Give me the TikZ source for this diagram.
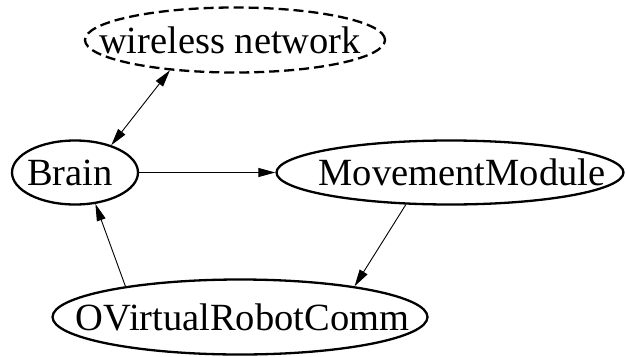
\documentclass[tikz,border=0pt]{standalone}
\usepackage{fontspec}
\setmainfont{Liberation Serif}
\usepackage{tikz}
\usetikzlibrary{shapes.geometric}
\usetikzlibrary{arrows.meta}

\newcommand{\modlabel}[2][0pt]{\makebox[0pt]{\hspace{#1}#2}}

\tikzset{
  module/.style={draw,ellipse,line width=2.3pt,inner sep=0pt,font=\fontsize{38.5}{40}\selectfont},
  link/.style={-{Triangle[length=17pt,width=9pt]},line width=0.9pt}
}

\begin{document}
\begin{tikzpicture}[x=1pt,y=-1pt]
\useasboundingbox (0,0) rectangle (626,356);
\node[module,dashed,dash pattern=on 10pt off 5pt,minimum width=300pt,minimum height=65pt] (wireless) at (235,40) {\modlabel[-10pt]{wireless network}};
\node[module,minimum width=126pt,minimum height=64pt] (brain) at (75,172.5) {\modlabel[-10pt]{Brain}};
\node[module,minimum width=347pt,minimum height=64pt] (movement) at (450,172.5) {\modlabel[24pt]{MovementModule}};
\node[module,minimum width=375pt,minimum height=75pt] (robotcomm) at (240,317) {\modlabel[5pt]{OVirtualRobotComm}};
\draw[link,{Triangle[length=17pt,width=9pt]}-{Triangle[length=17pt,width=9pt]}] (brain.37) -- (wireless.205.5);
\draw[link] (brain.east) -- (movement.west);
\draw[link] (movement.216.7) -- (robotcomm.15);
\draw[link] (robotcomm.165) -- (brain.-57);
\end{tikzpicture}
\end{document}
